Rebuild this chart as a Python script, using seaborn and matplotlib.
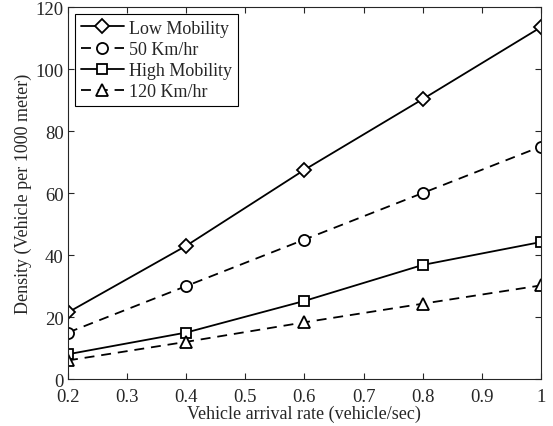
import pandas as pd
import matplotlib
matplotlib.use("Agg")
import matplotlib.pyplot as plt
import seaborn as sns

rate = [0.2, 0.4, 0.6, 0.8, 1.0]
low_mobility = [21.5, 43, 67.5, 90.3, 113.5]
speed_50 = [15, 30, 45, 60, 75]
high_mobility = [8, 15, 25.2, 36.8, 44.2]
speed_120 = [6, 12, 18.3, 24.3, 30.2]

sns.set_style("ticks")
plt.rcParams['font.family'] = ['Liberation Serif', 'DejaVu Serif']
plt.rcParams['xtick.direction'] = 'in'
plt.rcParams['ytick.direction'] = 'in'

# name, values, marker, marker size, dashed?
series = [
    ('Low Mobility', low_mobility, 'D', 7.5, False),
    ('50 Km/hr', speed_50, 'o', 8, True),
    ('High Mobility', high_mobility, 's', 6.5, False),
    ('120 Km/hr', speed_120, '^', 8.5, True),
]
dash = (5.5, 3.8)

fig = plt.figure(figsize=(5.53, 4.27), dpi=100)
ax = fig.add_axes([0.123, 0.11, 0.855, 0.871])

for name, vals, mk, ms, dashed in series:
    df = pd.DataFrame({'rate': rate, 'density': vals})
    line = sns.lineplot(data=df, x='rate', y='density', ax=ax, color='black',
                        marker=mk, markersize=ms, linewidth=1.3,
                        markerfacecolor='white', markeredgecolor='black',
                        markeredgewidth=1.3, label=name).lines[-1]
    if dashed:
        line.set_dashes(dash)

ax.set_xlim(0.2, 1.0)
ax.set_ylim(0, 120)
ax.set_xticks([0.2, 0.3, 0.4, 0.5, 0.6, 0.7, 0.8, 0.9, 1.0])
ax.set_xticklabels(['0.2', '0.3', '0.4', '0.5', '0.6', '0.7', '0.8', '0.9', '1'])
ax.set_yticks(range(0, 121, 20))
ax.tick_params(labelsize=13.5, top=True, right=True, length=4, width=0.8)
ax.tick_params(axis='x', pad=6.5)
ax.tick_params(axis='y', pad=3)
for s in ax.spines.values():
    s.set_linewidth(0.8)
ax.set_xlabel('Vehicle arrival rate (vehicle/sec)', fontsize=13, labelpad=0)
ax.set_ylabel('Density (Vehicle per 1000 meter)', fontsize=13, labelpad=3)

handles, labels = ax.get_legend_handles_labels()
for h, (_, _, _, _, dashed) in zip(handles, series):
    if dashed:
        h.set_dashes(dash)
leg = ax.legend(handles, labels, loc='upper left', fontsize=13, frameon=True,
                fancybox=False, edgecolor='black', framealpha=1, handlelength=2.4,
                borderpad=0.3, labelspacing=0.23, handletextpad=0.3,
                borderaxespad=0.4)
leg.get_frame().set_linewidth(0.8)

fig.savefig('out.png', dpi=100)
